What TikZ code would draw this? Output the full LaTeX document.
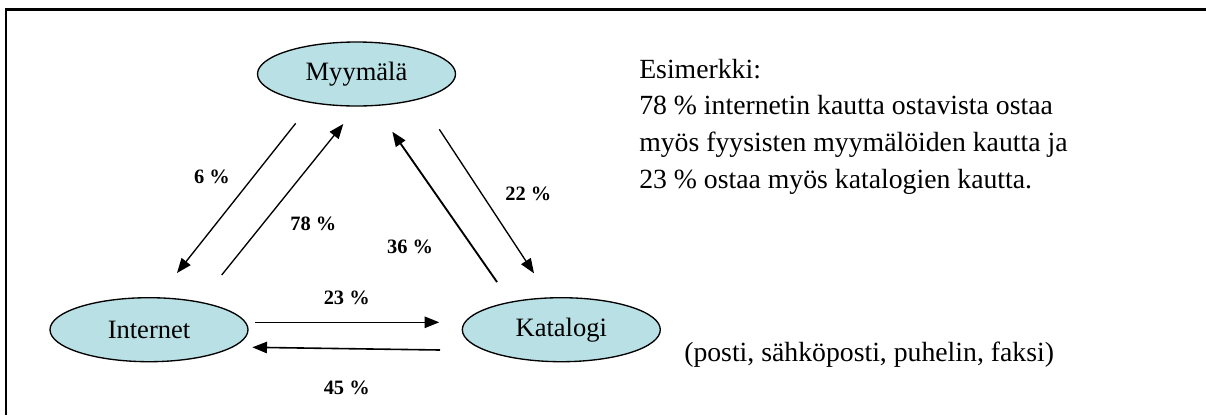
\documentclass[tikz,border=0pt]{standalone}
\usepackage{fontspec}
\setmainfont{Liberation Serif}
\usetikzlibrary{shapes.geometric,arrows.meta}
\definecolor{channelfill}{RGB}{185,224,228}
\tikzset{
  channel/.style={ellipse, draw=black, line width=1pt, fill=channelfill,
    minimum width=148.5pt, minimum height=48pt, inner sep=0pt,
    font=\fontsize{19.9pt}{24pt}\selectfont},
  flow/.style={line width=1pt, -{Triangle[length=11pt,width=8.5pt]}},
  share/.style={font=\fontsize{15.3pt}{18pt}\selectfont\bfseries, inner sep=0pt},
  note/.style={font=\fontsize{20.8pt}{27.5pt}\selectfont, inner sep=0pt, align=left}
}
\begin{document}
\begin{tikzpicture}[x=0.75pt,y=-0.75pt]
  \useasboundingbox (0,0) rectangle (1206,415);
  % frame (only its top and left edges fall inside the page)
  \draw[line width=1.6pt] (6,415) -- (6,9.5) -- (1206,9.5);

  % sales channels
  \node[channel] (store) at (356.5,74) {Myymälä};
  \node[channel] (web)   at (149,329.7) {Internet};
  \node[channel] (cat)   at (561.3,329.7) {Katalogi};

  % arrow end points
  \coordinate (sw1) at (295.7,123.3);  \coordinate (sw2) at (177,273);
  \coordinate (ws1) at (221.7,275);    \coordinate (ws2) at (343.3,124);
  \coordinate (cs1) at (497,282);      \coordinate (cs2) at (392.3,131.7);
  \coordinate (sc1) at (439.3,129.3);  \coordinate (sc2) at (534,273.3);
  \coordinate (wc1) at (255,322.3);    \coordinate (wc2) at (439.3,322.3);
  \coordinate (cw1) at (440,350);      \coordinate (cw2) at (252.3,347.3);

  \draw[flow] (sw1) -- (sw2);
  \draw[flow] (ws1) -- (ws2);
  \draw[flow, line width=1.4pt] (cs1) -- (cs2);
  \draw[flow] (sc1) -- (sc2);
  \draw[flow, line width=1.2pt] (wc1) -- (wc2);
  \draw[flow, line width=1.2pt] (cw1) -- (cw2);

  % shares
  \node[share] (p6)  at (212,177)     {6 \%};
  \node[share] (p78) at (313.3,224)   {78 \%};
  \node[share] (p36) at (410,247)     {36 \%};
  \node[share] (p22) at (528.3,194)   {22 \%};
  \node[share] (p23) at (346.7,298.3) {23 \%};
  \node[share] (p45) at (346.7,388.3) {45 \%};

  % explanation (anchored at the baseline of its last line)
  \node[note, anchor=base west] (example) at (639,188.3)
    {Esimerkki:\\
     78 \% internetin kautta ostavista ostaa\\
     myös fyysisten myymälöiden kautta ja\\
     23 \% ostaa myös katalogien kautta.};
  \node[note, anchor=base west] (means) at (684,361)
    {(posti, sähköposti, puhelin, faksi)};
\end{tikzpicture}
\end{document}
